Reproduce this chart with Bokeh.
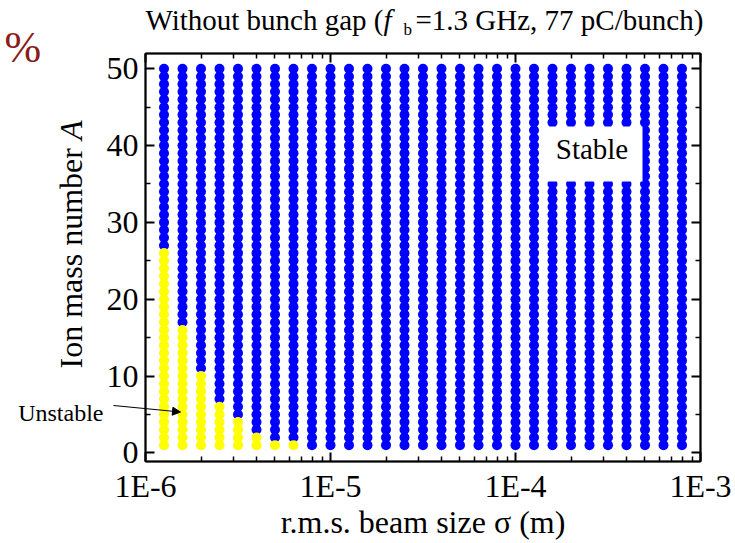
import math
from bokeh.plotting import figure
from bokeh.models import (Range1d, FixedTicker, LogAxis, LinearAxis, CustomJSTickFormatter,
                          Label, Arrow, NormalHead, BoxAnnotation, ColumnDataSource)
from bokeh.embed import file_html
from bokeh.resources import INLINE

# r.m.s. beam sizes scanned (m), ten per decade
sigma = [1.259e-6, 1.585e-6, 1.995e-6, 2.512e-6, 3.162e-6, 3.981e-6, 5.012e-6, 6.310e-6, 7.943e-6,
         1.000e-5, 1.259e-5, 1.585e-5, 1.995e-5, 2.512e-5, 3.162e-5, 3.981e-5, 5.012e-5, 6.310e-5, 7.943e-5,
         1.000e-4, 1.259e-4, 1.585e-4, 1.995e-4, 2.512e-4, 3.162e-4, 3.981e-4, 5.012e-4, 6.310e-4, 7.943e-4]
# ion mass numbers A checked for every beam size
mass_numbers = list(range(1, 51))
# largest unstable A for each beam size (0 = every ion stable)
unstable_max_A = [26, 16, 10, 6, 4, 2, 1, 1, 0,
                  0, 0, 0, 0, 0, 0, 0, 0, 0, 0,
                  0, 0, 0, 0, 0, 0, 0, 0, 0, 0]

x_decades = [1e-6, 1e-5, 1e-4, 1e-3]
y_major = [0, 10, 20, 30, 40, 50]
y_minor = [5, 15, 25, 35, 45]

FONT = "Liberation Serif"
BLUE = "#0000FF"
YELLOW = "#FFFF00"
W, H = 735, 543
ROOT_GAP = 10  # vertical gap the page inserts between the two stacked roots

stable = dict(x=[], y=[])
unstable = dict(x=[], y=[])
for s, amax in zip(sigma, unstable_max_A):
    for a in mass_numbers:
        target = unstable if a <= amax else stable
        target["x"].append(s)
        target["y"].append(a)

# ---- main plot -------------------------------------------------------------
p = figure(width=W, height=H, x_axis_type="log",
           x_range=Range1d(1e-6, 1e-3), y_range=Range1d(-1.13, 51.99),
           output_backend="svg", toolbar_location=None,
           min_border_left=145, min_border_right=35, min_border_top=53, min_border_bottom=82)
p.grid.visible = False
p.outline_line_color = "black"
p.outline_line_width = 1.5
p.background_fill_color = "white"
p.border_fill_color = "white"

p.scatter("x", "y", source=ColumnDataSource(stable), size=10, color=BLUE, line_color=None)
p.scatter("x", "y", source=ColumnDataSource(unstable), size=10, color=YELLOW, line_color=None)

x_minor = [m * d for d in x_decades[:-1] for m in range(2, 10)]


def style_axis(ax):
    ax.axis_line_width = 2
    ax.major_tick_in = 9
    ax.major_tick_out = 0
    ax.minor_tick_in = 5
    ax.minor_tick_out = 0
    ax.major_tick_line_width = 2
    ax.minor_tick_line_width = 1.5
    ax.major_label_text_font = FONT
    ax.major_label_text_font_size = "32px"
    ax.major_label_text_color = "black"


xa = p.xaxis[0]
xa.ticker = FixedTicker(ticks=x_decades, minor_ticks=x_minor)
xa.formatter = CustomJSTickFormatter(code="return '1E' + Math.round(Math.log10(tick)).toString();")
style_axis(xa)
xa.major_label_standoff = 6

ya = p.yaxis[0]
ya.ticker = FixedTicker(ticks=y_major, minor_ticks=y_minor)
style_axis(ya)
ya.major_label_standoff = 7

# mirrored tick frames on top and right, without labels
blank = CustomJSTickFormatter(code="return '';")
top = LogAxis(ticker=FixedTicker(ticks=x_decades, minor_ticks=x_minor), formatter=blank)
style_axis(top)
p.add_layout(top, "above")
right = LinearAxis(ticker=FixedTicker(ticks=y_major, minor_ticks=y_minor), formatter=blank)
style_axis(right)
p.add_layout(right, "right")

# "Stable" region tag on a white box
p.add_layout(BoxAnnotation(left=396, right=497, bottom=280, top=335,
                           left_units="screen", right_units="screen",
                           bottom_units="screen", top_units="screen",
                           fill_color="white", fill_alpha=1.0, line_color=None))
p.add_layout(Label(text="Stable", x=446.5, y=297, x_units="screen", y_units="screen",
                   text_font=FONT, text_font_size="29px", text_align="center",
                   text_color="black"))

# ---- transparent text layer over the whole canvas (pixel coordinates) -------
ov = figure(width=W, height=H, x_range=Range1d(0, W),
            y_range=Range1d(H + ROOT_GAP, ROOT_GAP),
            x_axis_type=None, y_axis_type=None, min_border=0,
            output_backend="svg", toolbar_location=None,
            margin=(-H, 0, 0, 0))
ov.outline_line_color = None
ov.background_fill_color = None
ov.border_fill_color = None


def text(t, x, y, size, **kw):
    ov.add_layout(Label(text=t, x=x, y=y, text_font=FONT, text_font_size=size,
                        text_baseline="alphabetic", text_color=kw.pop("text_color", "black"), **kw))


# title with italic f and subscript b
text("Without bunch gap (", 383, 29, "29px", text_align="right")
text("f", 383, 29, "29px", text_font_style="italic")
text("b", 403, 39, "17px")
text("=1.3 GHz, 77 pC/bunch)", 415, 29, "29px")

text("%", 4, 57, "44px", text_color="#8B1A1A")

# y-axis title with italic A
text("Ion mass number", 70, 378, "32px", angle=math.pi / 2)
text("A", 70, 130, "32px", angle=math.pi / 2, text_align="right", text_font_style="italic")

# x-axis title
text("r.m.s. beam size σ (m)", 422.5, 531, "32px", text_align="center")

# "Unstable" tag with arrow to the yellow column
text("Unstable", 103, 422, "24px", text_align="right")
ov.add_layout(Arrow(end=NormalHead(size=8, fill_color="black", line_color="black", line_width=1),
                    x_start=113, y_start=415, x_end=180, y_end=421.5,
                    line_color="black", line_width=1.2))

open("out.html", "w").write(file_html([p, ov], INLINE))
